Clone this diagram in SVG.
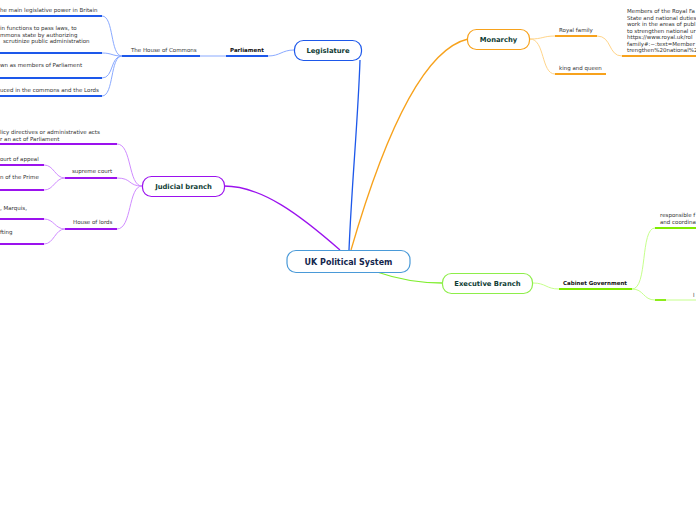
<svg xmlns="http://www.w3.org/2000/svg" width="696" height="520" viewBox="0 0 696 520">
<style>
  .t{font-family:"DejaVu Sans",Verdana,sans-serif;font-size:5.5px;fill:#333}
  .tb{font-family:"DejaVu Sans",Verdana,sans-serif;font-size:5.5px;font-weight:bold;fill:#111}
  .main{font-family:"DejaVu Sans",Verdana,sans-serif;font-size:6.8px;font-weight:bold;fill:#103d35;text-anchor:middle}
  .root{font-family:"DejaVu Sans",Verdana,sans-serif;font-size:8px;font-weight:bold;fill:#14264d;text-anchor:middle}
  .c{fill:none;stroke-width:1}
  .u{fill:none;stroke-width:1.8}
  .blue .c{stroke:#8aaaff}.blue .u{stroke:#1d58ea}
  .orange .c{stroke:#ffd58a}.orange .u{stroke:#f7a21c}
  .purple .c{stroke:#d08cff}.purple .u{stroke:#9b12ee}
  .green .c{stroke:#c6ff8c}.green .u{stroke:#7fea00}
</style>
<rect width="696" height="520" fill="#fff"/>
<g id="connectors">
  <path d="M349,250 C352,180 358,120 360,60" fill="none" stroke="#1d58ea" stroke-width="1.3"/>
  <path d="M351,250 C380,150 420,50 468,39" fill="none" stroke="#f7a21c" stroke-width="1.3"/>
  <path d="M340,250 C300,215 262,186 224,186" fill="none" stroke="#9b12ee" stroke-width="1.3"/>
  <path d="M377,272 C400,280 420,283 442,283" fill="none" stroke="#80ee30" stroke-width="1.3"/>
  <g class="blue">
    <path class="c" d="M268,56 C280,56 282,50 294,50"/>
    <path class="c" d="M200,56 L226,56"/>
    <path class="c" d="M122,56 C110,56 114,16 102,16"/>
    <path class="c" d="M122,56 C112,56 112,53 102,53"/>
    <path class="c" d="M122,56 C110,56 114,78 102,78"/>
    <path class="c" d="M122,56 C110,56 114,96 102,96"/>
  </g>
  <g class="purple">
    <path class="c" d="M142,186 C128,186 132,144 117,144"/>
    <path class="c" d="M142,186 C128,186 132,178 117,178"/>
    <path class="c" d="M142,186 C128,186 132,229 117,229"/>
    <path class="c" d="M65,178 C55,178 54,165 44,165"/>
    <path class="c" d="M65,178 C55,178 54,190 44,190"/>
    <path class="c" d="M65,229 C55,229 54,219 44,219"/>
    <path class="c" d="M65,229 C55,229 54,244 44,244"/>
  </g>
  <g class="orange">
    <path class="c" d="M530,39 C543,39 543,36 555,36"/>
    <path class="c" d="M530,39 C545,39 541,74 555,74"/>
    <path class="c" d="M597,36 C612,36 608,56 622,56"/>
  </g>
  <g class="green">
    <path class="c" d="M533,283 C546,283 546,289 559,289"/>
    <path class="c" d="M632,289 C648,289 640,228 655,228"/>
    <path class="c" d="M632,289 C644,289 643,300 655,300"/>
    <path class="c" d="M666,300 L696,300"/>
  </g>
</g>
<g id="root">
  <rect x="287" y="250.5" width="123" height="22" rx="9" fill="#fff" stroke="#4a9ad8" stroke-width="1.2"/>
  <text class="root" x="348.5" y="264.8">UK Political System</text>
</g>
<g id="legislature">
  <rect x="294.5" y="40.5" width="67" height="20" rx="9" fill="#fff" stroke="#1d58ea" stroke-width="1.2"/>
  <text class="main" x="328" y="53">Legislature</text>
</g>
<g id="monarchy">
  <rect x="467.5" y="29.5" width="62" height="20" rx="9" fill="#fff" stroke="#f7a21c" stroke-width="1.2"/>
  <text class="main" x="498.5" y="42">Monarchy</text>
</g>
<g id="judicial">
  <rect x="142.5" y="176.5" width="82" height="20" rx="9" fill="#fff" stroke="#9b12ee" stroke-width="1.2"/>
  <text class="main" x="183.5" y="189">Judicial branch</text>
</g>
<g id="executive">
  <rect x="442.5" y="273.5" width="90" height="20" rx="9" fill="#fff" stroke="#8eee4a" stroke-width="1.2"/>
  <text class="main" x="487.5" y="286">Executive Branch</text>
</g>
<g id="parliament" class="blue">
  <text class="tb" x="230" y="52">Parliament</text>
  <path class="u" d="M226,56 H268"/>
</g>
<g id="house-of-commons" class="blue">
  <text class="t" x="131" y="52">The House of Commons</text>
  <path class="u" d="M122,56 H200"/>
</g>
<g id="commons-leaf-1" class="blue">
  <text class="t" x="0" y="12">he main legislative power in Britain</text>
  <path class="u" d="M0,16 H102"/>
</g>
<g id="commons-leaf-2" class="blue">
  <text class="t" x="0" y="30">in functions to pass laws, to</text>
  <text class="t" x="0" y="36.5">mmons state by authorizing</text>
  <text class="t" x="3" y="43">scrutinize public administration</text>
  <path class="u" d="M0,53 H102"/>
</g>
<g id="commons-leaf-3" class="blue">
  <text class="t" x="0" y="67">wn as members of Parliament</text>
  <path class="u" d="M0,78 H102"/>
</g>
<g id="commons-leaf-4" class="blue">
  <text class="t" x="0" y="92">uced in the commons and the Lords</text>
  <path class="u" d="M0,96 H102"/>
</g>
<g id="judicial-leaf-1" class="purple">
  <text class="t" x="0" y="134">licy directives or administrative acts</text>
  <text class="t" x="0" y="141">r an act of Parliament</text>
  <path class="u" d="M0,144 H117"/>
</g>
<g id="supreme-court" class="purple">
  <text class="t" x="72" y="173">supreme court</text>
  <path class="u" d="M65,178 H117"/>
</g>
<g id="supreme-leaf-1" class="purple">
  <text class="t" x="0" y="161">ourt of appeal</text>
  <path class="u" d="M0,165 H44"/>
</g>
<g id="supreme-leaf-2" class="purple">
  <text class="t" x="0" y="179">n of the Prime</text>
  <path class="u" d="M0,190 H44"/>
</g>
<g id="house-of-lords" class="purple">
  <text class="t" x="73" y="224">House of lords</text>
  <path class="u" d="M65,229 H117"/>
</g>
<g id="lords-leaf-1" class="purple">
  <text class="t" x="0" y="210">, Marquis,</text>
  <path class="u" d="M0,219 H44"/>
</g>
<g id="lords-leaf-2" class="purple">
  <text class="t" x="0" y="234">fting</text>
  <path class="u" d="M0,244 H44"/>
</g>
<g id="royal-family" class="orange">
  <text class="t" x="559" y="32">Royal family</text>
  <path class="u" d="M555,36 H597"/>
</g>
<g id="king-and-queen" class="orange">
  <text class="t" x="559" y="70">king and queen</text>
  <path class="u" d="M555,74 H606"/>
</g>
<g id="royal-leaf" class="orange">
  <text class="t" x="627" y="13">Members of the Royal Fa</text>
  <text class="t" x="627" y="19.5">State and national duties</text>
  <text class="t" x="627" y="26">work in the areas of publ</text>
  <text class="t" x="627" y="32.5">to strengthen national ur</text>
  <text class="t" x="627" y="39">https://www.royal.uk/rol</text>
  <text class="t" x="627" y="45.5">family#:~:text=Member</text>
  <text class="t" x="627" y="52">trengthen%20national%2</text>
  <path class="u" d="M622,56 H696"/>
</g>
<g id="cabinet-government" class="green">
  <text class="tb" x="563" y="285">Cabinet Government</text>
  <path class="u" d="M559,289 H632"/>
</g>
<g id="cabinet-leaf-1" class="green">
  <text class="t" x="660" y="217">responsible f</text>
  <text class="t" x="660" y="224">and coordinat</text>
  <path class="u" d="M655,228 H696"/>
</g>
<g id="cabinet-leaf-2" class="green">
  <path class="u" d="M655,300 H666"/>
</g>
<g id="cabinet-leaf-3" class="green">
  <text class="t" x="693" y="297">l</text>
</g>
</svg>
